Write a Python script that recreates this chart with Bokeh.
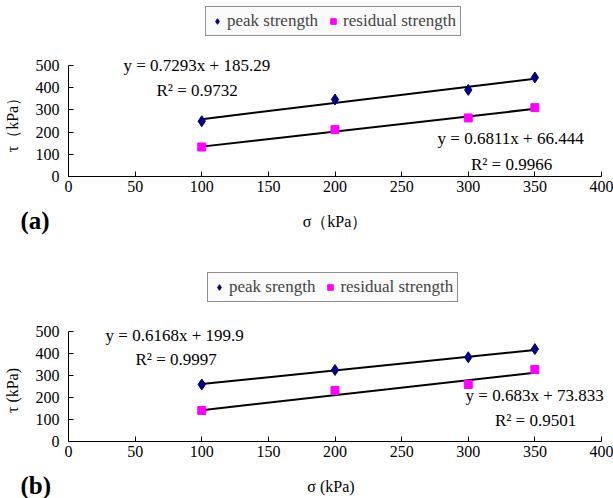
from bokeh.plotting import figure
from bokeh.models import Range1d, FixedTicker, Legend, LegendItem, Label, LinearAxis
from bokeh.layouts import column
from bokeh.embed import file_html
from bokeh.resources import INLINE

# ---- data ----
sigma = [100, 200, 300, 350]
peak_a = [249, 347, 390, 446]
resid_a = [133, 211, 264, 310]
peak_b = [259, 325, 383, 420]
resid_b = [141, 232, 259, 327]

fit_a = {"peak": (0.7293, 185.29, 0.9732), "resid": (0.6811, 66.444, 0.9966)}
fit_b = {"peak": (0.6168, 199.9, 0.9997), "resid": (0.683, 73.833, 0.9501)}

x_ticks = [0, 50, 100, 150, 200, 250, 300, 350, 400]
y_ticks = [0, 100, 200, 300, 400, 500]

FONT = "Liberation Serif"
NAVY = "#000080"
MAG = "#ff00ff"

W = 613
X0, XPX = 68, 1.3325   # pixel of sigma=0, pixels per kPa


def panel(height, y0px, ypx, peak, resid, fits, peak_name, tag, xlab, ylab, ann, leg_loc):
    xr = Range1d(-X0 / XPX, (W - X0) / XPX)
    yr = Range1d(-(height - y0px) / ypx, y0px / ypx)
    p = figure(width=W, height=height, output_backend="svg", toolbar_location=None,
               x_range=xr, y_range=yr, x_axis_location=None, y_axis_location=None,
               min_border=0)
    p.outline_line_color = None
    p.grid.visible = False
    p.background_fill_color = "white"
    p.border_fill_color = "white"

    xax = LinearAxis(fixed_location=0, bounds=(0, 400), ticker=FixedTicker(ticks=x_ticks))
    yax = LinearAxis(fixed_location=0, bounds=(0, 500), ticker=FixedTicker(ticks=y_ticks))
    for ax in (xax, yax):
        ax.minor_tick_line_color = None
        ax.major_tick_in = 5
        ax.major_tick_out = 0
        ax.axis_line_color = "black"
        ax.major_tick_line_color = "black"
        ax.major_label_text_font = FONT
        ax.major_label_text_font_size = "16px"
        ax.major_label_text_color = "black"
        ax.axis_label_text_font = FONT
        ax.axis_label_text_font_size = "16px"
        ax.axis_label_text_font_style = "normal"
        ax.axis_label_text_color = "black"
    xax.axis_label = xlab
    yax.axis_label = ylab
    xax.major_label_standoff = 4
    xax.axis_label_standoff = 18
    yax.major_label_standoff = 9
    yax.axis_label_standoff = 12
    p.add_layout(xax, "below")
    p.add_layout(yax, "left")

    xs = [min(sigma), max(sigma)]
    for key in ("peak", "resid"):
        m, c, _ = fits[key]
        p.line(xs, [m * x + c for x in xs], line_color="black", line_width=2)
    r1 = p.scatter(sigma, peak, marker="diamond", size=11, color=NAVY)
    r2 = p.scatter(sigma, resid, marker="square", size=8, color=MAG)

    legend = Legend(items=[LegendItem(label=peak_name, renderers=[r1]),
                           LegendItem(label="residual strength", renderers=[r2])],
                    orientation="horizontal", location=leg_loc,
                    label_text_font=FONT, label_text_font_size="17px",
                    label_height=18, glyph_height=18, glyph_width=14,
                    label_standoff=3, spacing=8, padding=4, margin=0,
                    border_line_color="#222222", border_line_width=1,
                    background_fill_color="#fafafa", background_fill_alpha=1)
    p.add_layout(legend)

    for (x, y, key, which) in ann:
        m, c, r2v = fits[key]
        txt = f"y = {m}x + {c}" if which == "eq" else f"R² = {r2v}"
        p.add_layout(Label(x=x, y=y, text=txt, text_font=FONT, text_font_size="17px",
                           text_align="left", text_baseline="middle", text_color="black"))
    p.add_layout(Label(x=tag[1], y=tag[2], text=tag[0], text_font=FONT,
                       text_font_size="25px", text_font_style="bold",
                       text_align="left", text_baseline="middle", text_color="black"))
    return p


pa = panel(266, 176, 111 / 500, peak_a, resid_a, fit_a, "peak strength", ("(a)", -36, -198),
           "σ（kPa）", "τ（kPa）",
           [(41.3, 500, "peak", "eq"), (66, 387, "peak", "r2"),
            (277, 171, "resid", "eq"), (302, 54, "resid", "r2")],
           (205, 230))
pb = panel(232, 175, 110 / 500, peak_b, resid_b, fit_b, "peak srength", ("(b)", -36, -200),
           "σ   (kPa)", "τ   (kPa)",
           [(27.8, 482, "peak", "eq"), (50.3, 373, "peak", "r2"),
            (298, 209, "resid", "eq"), (320, 95, "resid", "r2")],
           (207, 196))

layout = column(pa, pb, spacing=0)
open("out.html", "w").write(file_html(layout, INLINE))
